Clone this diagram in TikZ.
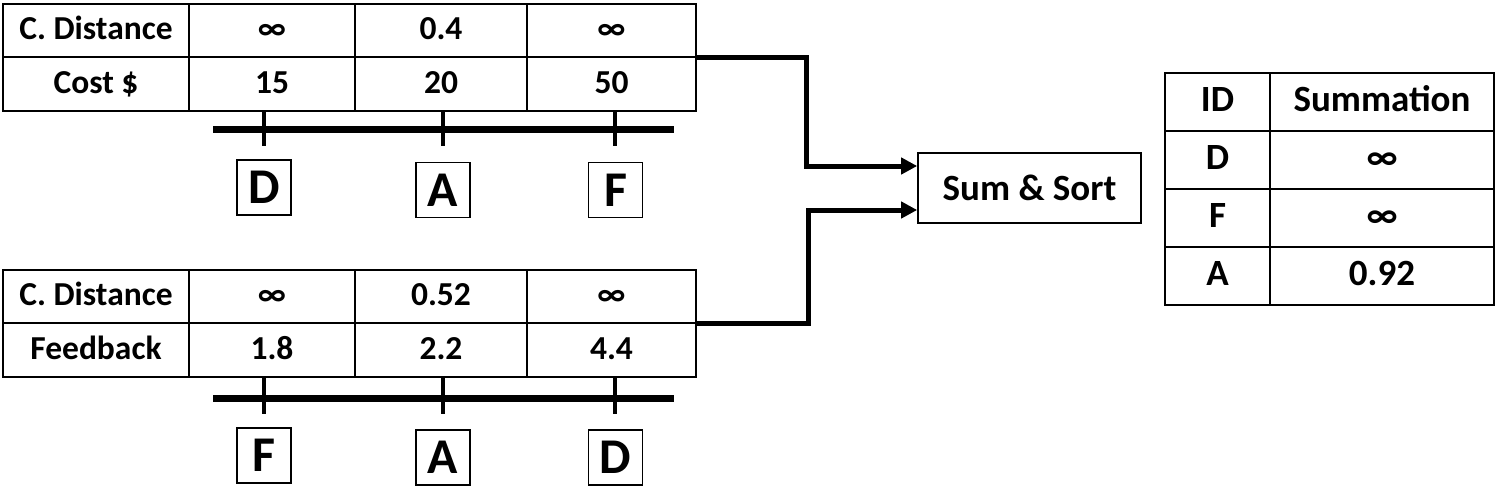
\documentclass[tikz,border=0pt]{standalone}
\usepackage{fontspec}
\setmainfont{Carlito}
\usetikzlibrary{arrows.meta}
\begin{document}
\begin{tikzpicture}[x=1pt,y=-1pt,
  cell/.style={draw,line width=1.6pt,inner sep=0pt,text height=22pt,text depth=4pt,font=\fontsize{33.5}{38}\selectfont\bfseries},
  hcell/.style={cell,text height=24pt,text depth=4.5pt,font=\fontsize{37}{42}\selectfont\bfseries},
  idbox/.style={draw,line width=1.6pt,inner sep=0pt,minimum width=54pt,minimum height=55pt,font=\fontsize{50}{56}\selectfont\bfseries},
  axisline/.style={line width=7pt},
  tickline/.style={line width=4pt},
  arr/.style={line width=5pt,-{Triangle[length=16pt,width=16pt]}},
]
\useasboundingbox (0,0) rectangle (1499,491);
% top table
\node[cell,minimum width=186pt,minimum height=53pt] (ta1) at (96,30.5) {C. Distance};
\node[cell,minimum width=166pt,minimum height=53pt] (ta2) at (272,30.5) {∞};
\node[cell,minimum width=172pt,minimum height=53pt] (ta3) at (441,30.5) {0.4};
\node[cell,minimum width=169pt,minimum height=53pt] (ta4) at (611.5,30.5) {∞};
\node[cell,minimum width=186pt,minimum height=54pt] (tb1) at (96,84) {Cost \$};
\node[cell,minimum width=166pt,minimum height=54pt] (tb2) at (272,84) {15};
\node[cell,minimum width=172pt,minimum height=54pt] (tb3) at (441,84) {20};
\node[cell,minimum width=169pt,minimum height=54pt] (tb4) at (611.5,84) {50};
\draw[axisline] (213,129) -- (674,129);
\draw[tickline] (264,111) -- (264,146);
\draw[tickline] (443,111) -- (443,146);
\draw[tickline] (615,111) -- (615,146);
\node[idbox] (tD) at (264,187.5) {D};
\node[idbox] (tA) at (443,190) {A};
\node[idbox] (tF) at (615.5,190) {F};
% bottom table
\node[cell,minimum width=186pt,minimum height=53pt] (ba1) at (96,296.5) {C. Distance};
\node[cell,minimum width=166pt,minimum height=53pt] (ba2) at (272,296.5) {∞};
\node[cell,minimum width=172pt,minimum height=53pt] (ba3) at (441,296.5) {0.52};
\node[cell,minimum width=169pt,minimum height=53pt] (ba4) at (611.5,296.5) {∞};
\node[cell,minimum width=186pt,minimum height=54pt] (bb1) at (96,350) {Feedback};
\node[cell,minimum width=166pt,minimum height=54pt] (bb2) at (272,350) {1.8};
\node[cell,minimum width=172pt,minimum height=54pt] (bb3) at (441,350) {2.2};
\node[cell,minimum width=169pt,minimum height=54pt] (bb4) at (611.5,350) {4.4};
\draw[axisline] (213,398) -- (674,398);
\draw[tickline] (264,377) -- (264,414);
\draw[tickline] (443,377) -- (443,414);
\draw[tickline] (615,377) -- (615,414);
\node[idbox] (bF) at (264,455.5) {F};
\node[idbox] (bA) at (443,457.5) {A};
\node[idbox] (bD) at (615.5,457.5) {D};
% sum & sort
\node[draw,line width=1.6pt,minimum width=223pt,minimum height=70pt,inner sep=0pt,font=\fontsize{37}{42}\selectfont\bfseries] (sum) at (1029.5,188) {Sum \& Sort};
\draw[arr] (ta4.south east) -- ++(110,0) |- ([yshift=22pt]sum.west);
\draw[arr] (ba4.south east) -- ++(112,0) |- ([yshift=-22pt]sum.west);
% result table
\node[hcell,minimum width=105pt,minimum height=58pt] (r11) at (1217.5,102) {ID};
\node[hcell,minimum width=224pt,minimum height=58pt] (r12) at (1382,102) {Summation};
\node[hcell,minimum width=105pt,minimum height=58pt] (r21) at (1217.5,160) {D};
\node[hcell,minimum width=224pt,minimum height=58pt] (r22) at (1382,160) {∞};
\node[hcell,minimum width=105pt,minimum height=58pt] (r31) at (1217.5,218) {F};
\node[hcell,minimum width=224pt,minimum height=58pt] (r32) at (1382,218) {∞};
\node[hcell,minimum width=105pt,minimum height=58pt] (r41) at (1217.5,276) {A};
\node[hcell,minimum width=224pt,minimum height=58pt] (r42) at (1382,276) {0.92};
\end{tikzpicture}
\end{document}
